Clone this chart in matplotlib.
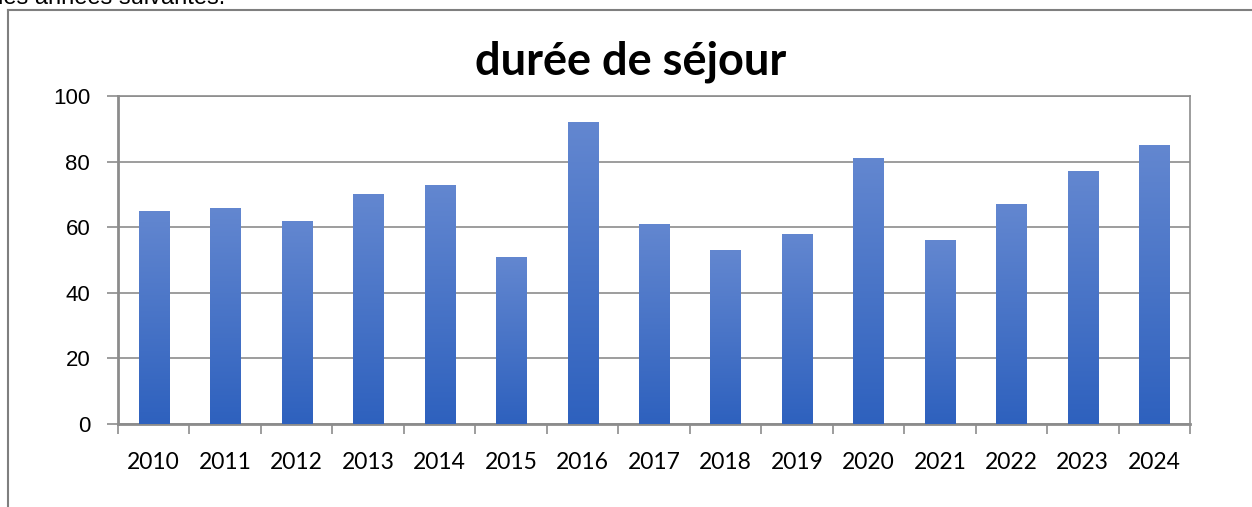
import numpy as np
import matplotlib.pyplot as plt
from matplotlib.lines import Line2D
from matplotlib.colors import LinearSegmentedColormap

years = ["2010", "2011", "2012", "2013", "2014", "2015", "2016", "2017",
         "2018", "2019", "2020", "2021", "2022", "2023", "2024"]
durees = [65, 66, 62, 70, 73, 51, 92, 61, 53, 58, 81, 56, 67, 77, 85]
yticks = [0, 20, 40, 60, 80, 100]

W, H = 1252, 507
fig = plt.figure(figsize=(W / 100, H / 100), dpi=100)

# plot area in pixels: left 118, right 1190, top 96, bottom 424
ax = fig.add_axes([118 / W, 1 - 424 / H, (1190 - 118) / W, (424 - 96) / H])

x = np.arange(len(years))
bw = 0.42
bars = ax.bar(x, durees, width=bw, color="none", zorder=3)

# vertical gradient inside each bar
grad = np.linspace(0, 1, 256).reshape(-1, 1)
cmap = LinearSegmentedColormap.from_list("bleu", ["#2E61BE", "#6387D0"])
for b in bars:
    im = ax.imshow(grad, cmap=cmap, aspect="auto", origin="lower",
                   extent=[b.get_x(), b.get_x() + b.get_width(), 0, b.get_height()],
                   zorder=3)
    im.set_clip_path(b)

ax.set_xlim(-0.5, len(years) - 0.5)
ax.set_ylim(0, 100)
ax.set_yticks(yticks)
ax.set_yticklabels([str(v) for v in yticks], fontsize=16, family="Liberation Sans")
ax.yaxis.grid(True, color="#8c8c8c", linewidth=1.2, zorder=0)
ax.set_axisbelow(True)

ax.set_xticks(x)
ax.set_xticklabels(years, fontsize=16.5, family="Lato")
ax.tick_params(axis="x", length=0, pad=20)
ax.set_xticks(np.arange(-0.5, len(years)), minor=True)
ax.tick_params(axis="x", which="minor", length=7, color="#8c8c8c", width=1.2)
ax.tick_params(axis="y", length=8, color="#8c8c8c", width=1.2, pad=12)

for s in ax.spines.values():
    s.set_color("#8c8c8c")
    s.set_linewidth(1.2)
ax.spines["left"].set_linewidth(2)
ax.spines["bottom"].set_linewidth(2)

fig.text(631 / W, 1 - 62 / H, "durée de séjour", ha="center", va="center",
         fontsize=32.5, fontweight="bold", family="Lato")

# outer chart frame, clipped by the picture on right and bottom
fig.add_artist(Line2D([8 / W, 8 / W], [0, 1 - 10 / H], transform=fig.transFigure,
                      color="#7f7f7f", linewidth=1.5))
fig.add_artist(Line2D([8 / W, 1], [1 - 10 / H, 1 - 10 / H], transform=fig.transFigure,
                      color="#7f7f7f", linewidth=1.5))

# text above, cut by the top edge as in the source page
fig.text(-2 / W, 1 + 2 / H, "les années suivantes.", ha="left", va="center",
         fontsize=17, family="Liberation Sans")

fig.savefig("out.png", dpi=100)
